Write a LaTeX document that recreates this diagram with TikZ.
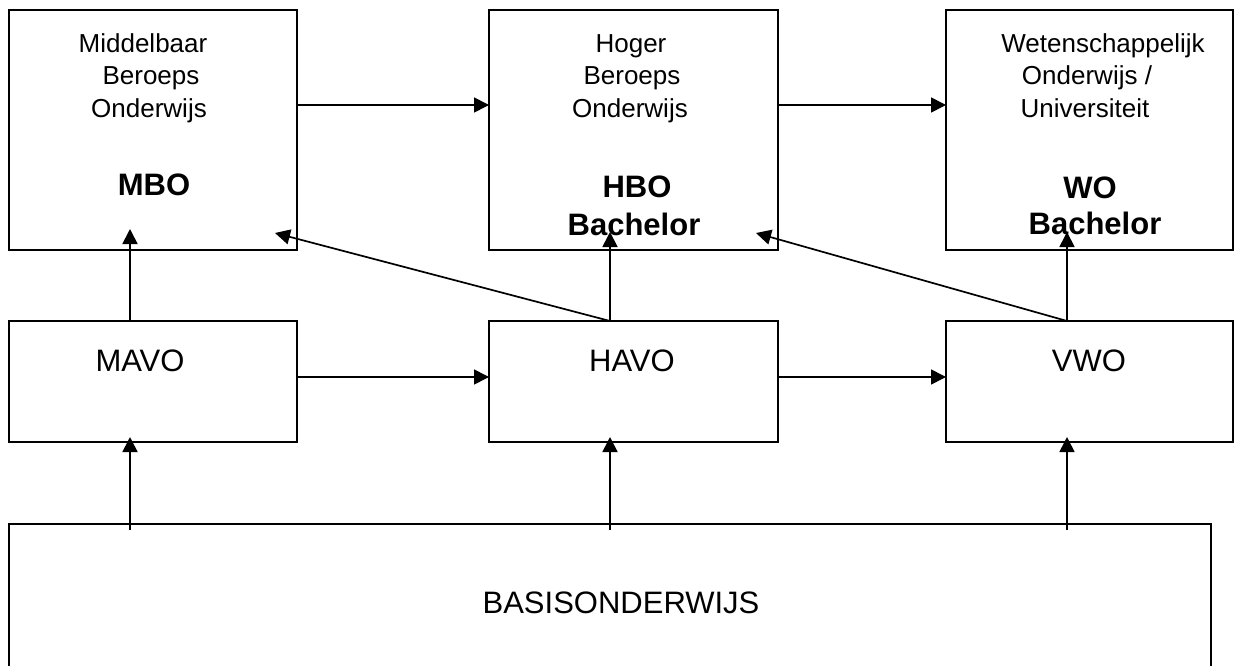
\documentclass[tikz,border=0pt]{standalone}
\usepackage{fontspec}
\setmainfont{Liberation Sans}
\usetikzlibrary{arrows.meta}
\begin{document}
\begin{tikzpicture}[x=1pt,y=-1pt,
  box/.style={draw=black, line width=2.5pt, inner sep=0pt, outer sep=0pt},
  arr/.style={line width=1.7pt, -{Triangle[length=15pt,width=15pt]}},
  small/.style={anchor=base, inner sep=0pt, font=\fontsize{26}{32}\selectfont},
  big/.style={anchor=base, inner sep=0pt, font=\fontsize{31}{38}\selectfont\bfseries},
  mid/.style={anchor=base, inner sep=0pt, font=\fontsize{31}{38}\selectfont}]
\useasboundingbox (0,0) rectangle (1234,666);
\clip (0,0) rectangle (1234,666);
% top row
\node[box, minimum width=288pt, minimum height=240pt] (mbo) at (153,130) {};
\node[box, minimum width=289pt, minimum height=240pt] (hbo) at (633.5,130) {};
\node[box, minimum width=287pt, minimum height=240pt] (wo) at (1089.5,130) {};
% middle row
\node[box, minimum width=288pt, minimum height=121pt] (mavo) at (153,381.5) {};
\node[box, minimum width=289pt, minimum height=121pt] (havo) at (633.5,381.5) {};
\node[box, minimum width=287pt, minimum height=121pt] (vwo) at (1089.5,381.5) {};
% bottom
\node[box, minimum width=1202pt, minimum height=170pt] (basis) at (610,609) {};
% texts
\node[small] (mbo1) at (143,53) {Middelbaar};
\node[small] (mbo2) at (151,85) {Beroeps};
\node[small] (mbo3) at (149,118) {Onderwijs};
\node[big] (mbo4) at (154,195) {MBO};
\node[small] (hbo1) at (631,53) {Hoger};
\node[small] (hbo2) at (632,85) {Beroeps};
\node[small] (hbo3) at (630,118) {Onderwijs};
\node[big] (hbo4) at (637,197) {HBO};
\node[big] (hbo5) at (634,235) {Bachelor};
\node[small] (wo1) at (1103,53) {Wetenschappelijk};
\node[small] (wo2) at (1087,85) {Onderwijs /};
\node[small] (wo3) at (1085,118) {Universiteit};
\node[big] (wo4) at (1090,198) {WO};
\node[big] (wo5) at (1095,234) {Bachelor};
\node[mid] (mavot) at (140,371) {MAVO};
\node[mid] (havot) at (632,371) {HAVO};
\node[mid] (vwot) at (1089,371) {VWO};
\node[mid] (basist) at (621,613) {BASISONDERWIJS};
% horizontal arrows
\draw[arr] ([yshift=25pt]mbo.east) -- ([yshift=25pt]hbo.west);
\draw[arr] ([yshift=25pt]hbo.east) -- ([yshift=25pt]wo.west);
\draw[arr] ([yshift=4.5pt]mavo.east) -- ([yshift=4.5pt]havo.west);
\draw[arr] ([yshift=4.5pt]havo.east) -- ([yshift=4.5pt]vwo.west);
% vertical arrows middle -> top
\draw[arr] ([xshift=-23pt]mavo.north) -- ([xshift=-23pt,yshift=21pt]mbo.south);
\draw[arr] ([xshift=-23.5pt]havo.north) -- ([xshift=-23.5pt,yshift=18pt]hbo.south);
\draw[arr] ([xshift=-22.5pt]vwo.north) -- ([xshift=-22.5pt,yshift=18pt]wo.south);
% diagonal arrows
\draw[arr] ([xshift=-23.5pt]havo.north) -- ([xshift=-22pt,yshift=17pt]mbo.south east);
\draw[arr] ([xshift=-22.5pt]vwo.north) -- ([xshift=-22pt,yshift=17pt]hbo.south east);
% bottom arrows
\draw[arr] ([xshift=-480pt,yshift=-6pt]basis.north) -- ([xshift=-23pt,yshift=5pt]mavo.south);
\draw[arr] ([yshift=-6pt]basis.north) -- ([xshift=-23.5pt,yshift=5pt]havo.south);
\draw[arr] ([xshift=457pt,yshift=-6pt]basis.north) -- ([xshift=-22.5pt,yshift=5pt]vwo.south);
\end{tikzpicture}
\end{document}
